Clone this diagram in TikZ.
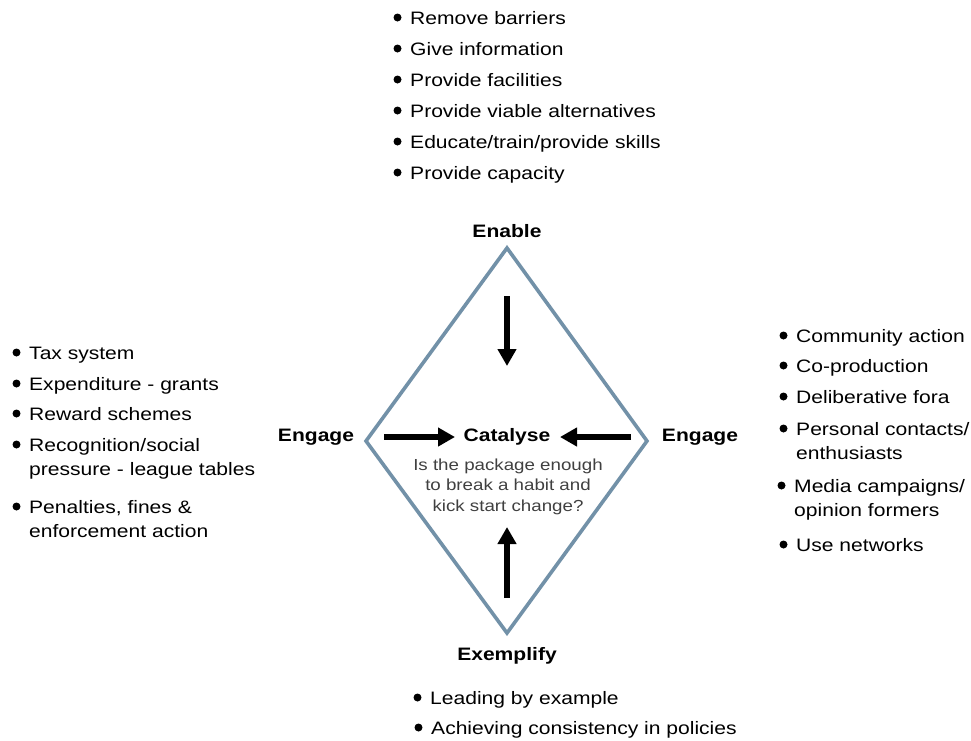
\documentclass[tikz,border=0pt]{standalone}
\usepackage{fontspec}
\setmainfont[FakeStretch=1.17]{Liberation Sans}
\usetikzlibrary{arrows.meta}

\definecolor{frame}{RGB}{114,145,168}
\definecolor{qtext}{RGB}{64,64,64}

% one bulleted entry: name, text start x, first baseline y, extra lines, text
% (a multi-line node sits on the baseline of its last line)
\newcommand\bulletentry[5]{%
  \node[entry] (#1) at (#2,#3+24*#4) {#5};
  \fill (#2-12.5,#3-6.5) circle (4);
}

\begin{document}
\begin{tikzpicture}[x=1pt,y=-1pt,
  entry/.style={anchor=base west,inner sep=0pt,align=left,
    font=\fontsize{18}{24}\selectfont},
  heading/.style={anchor=base,inner sep=0pt,font=\fontsize{18}{22}\selectfont\bfseries},
  question/.style={anchor=base,inner sep=0pt,align=center,text=qtext,
    font=\fontsize{16}{20.5}\selectfont},
  push/.style={line width=6.5pt,-{Triangle[length=17pt,width=18pt]}},
  edge/.style={draw=frame,line width=3.6pt,line join=miter}]

\useasboundingbox (0,0) rectangle (971,740);

% diamond corners
\coordinate (top) at (507,248);
\coordinate (right) at (647,441);
\coordinate (bottom) at (507,633);
\coordinate (left) at (366,441);
\draw[edge] (top) -- (right) -- (bottom) -- (left) -- cycle;

% corner labels
\node[heading] (enable) at (507,237) {Enable};
\node[heading] (engageL) at (316,441) {Engage};
\node[heading] (engageR) at (700,441) {Engage};
\node[heading] (exemplify) at (507,660) {Exemplify};
\node[heading] (catalyse) at (507,441) {Catalyse};
\node[question] (ask) at (508,511) {Is the package enough\\to break a habit and\\kick start change?};

% arrows pointing to the centre
\coordinate (inT0) at (507,296);  \coordinate (inT1) at (507,366);
\coordinate (inL0) at (384,437);  \coordinate (inL1) at (455,437);
\coordinate (inR0) at (631,437);  \coordinate (inR1) at (560,437);
\coordinate (inB0) at (507,598);  \coordinate (inB1) at (507,527);
\draw[push] (inT0) -- (inT1);
\draw[push] (inL0) -- (inL1);
\draw[push] (inR0) -- (inR1);
\draw[push] (inB0) -- (inB1);

% enable
\bulletentry{e1}{410}{24}{0}{Remove barriers}
\bulletentry{e2}{410}{55}{0}{Give information}
\bulletentry{e3}{410}{86}{0}{Provide facilities}
\bulletentry{e4}{410}{117}{0}{Provide viable alternatives}
\bulletentry{e5}{410}{148}{0}{Educate/train/provide skills}
\bulletentry{e6}{410}{179}{0}{Provide capacity}

% engage (left)
\bulletentry{l1}{29}{359}{0}{Tax system}
\bulletentry{l2}{29}{390}{0}{Expenditure - grants}
\bulletentry{l3}{29}{420}{0}{Reward schemes}
\bulletentry{l4}{29}{451}{1}{Recognition/social\\pressure - league tables}
\bulletentry{l5}{29}{513}{1}{Penalties, fines \&\\enforcement action}

% engage (right)
\bulletentry{r1}{796}{342}{0}{Community action}
\bulletentry{r2}{796}{372}{0}{Co-production}
\bulletentry{r3}{796}{403}{0}{Deliberative fora}
\bulletentry{r4}{796}{435}{1}{Personal contacts/\\enthusiasts}
\bulletentry{r5}{794}{492}{1}{Media campaigns/\\opinion formers}
\bulletentry{r6}{796}{551}{0}{Use networks}

% exemplify
\bulletentry{x1}{430}{704}{0}{Leading by example}
\bulletentry{x2}{431}{734}{0}{Achieving consistency in policies}

\end{tikzpicture}
\end{document}
